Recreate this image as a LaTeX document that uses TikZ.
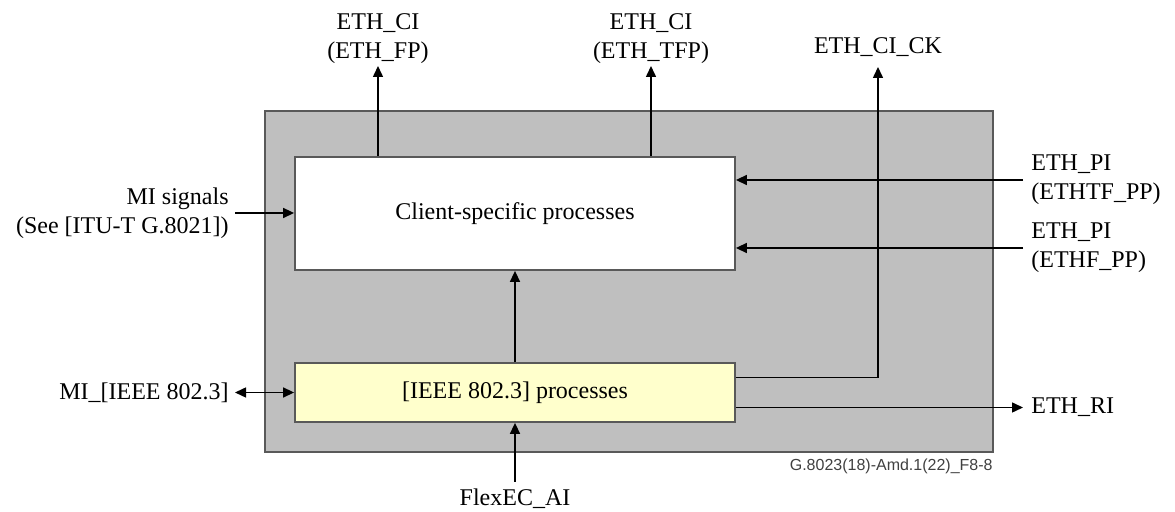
\documentclass[tikz,border=0pt]{standalone}
\usepackage{fontspec}
\setmainfont{Liberation Serif}
\setsansfont{Liberation Sans}
\usetikzlibrary{arrows.meta}
\definecolor{procyellow}{RGB}{255,255,204}

\begin{document}
\begin{tikzpicture}[x=0.5pt,y=-0.5pt,
  >={Triangle[length=5.5pt,width=5pt]},
  fnbox/.style={draw=black!65,line width=0.9pt,fill=#1,inner sep=0pt,
    font=\fontsize{12}{14.5}\selectfont},
  sig/.style={->,line width=0.75pt},
  lbl/.style={font=\fontsize{12}{14.5}\selectfont,inner sep=1pt,align=center}]
  \useasboundingbox (0,0) rectangle (1175,512);
  \node[fnbox=black!25,minimum width=364pt,minimum height=170.5pt] (fn) at (629,281.5) {};
  \node[fnbox=white,minimum width=220pt,minimum height=56.5pt] (client) at (515,213.5) {Client-specific processes};
  \node[fnbox=procyellow,minimum width=220pt,minimum height=29.5pt] (ieee) at (515,392.5) {[IEEE 802.3] processes};

  \node[lbl,anchor=south] (ethfp) at (378,66) {ETH\_CI\\(ETH\_FP)};
  \node[lbl,anchor=south] (ethtfp) at (651,66) {ETH\_CI\\(ETH\_TFP)};
  \node[lbl,anchor=south,inner ysep=5pt] (ethcick) at (878,67) {ETH\_CI\_CK};
  \node[lbl,align=left,anchor=west,inner xsep=4pt] (ethtf) at (1023,180) {ETH\_PI\\(ETHTF\_PP)};
  \node[lbl,align=left,anchor=west,inner xsep=4pt] (ethf) at (1023,248) {ETH\_PI\\(ETHF\_PP)};
  \node[lbl,anchor=west,inner xsep=4pt] (ethri) at (1023,407.5) {ETH\_RI};
  \node[lbl,align=right,anchor=east,inner xsep=3pt] (misig) at (235,213) {MI signals\\(See [ITU-T G.8021])};
  \node[lbl,anchor=east,inner xsep=3pt] (mi8023) at (235,392.5) {MI\_[IEEE 802.3]};
  \node[lbl,anchor=north,inner ysep=3pt] (flexec) at (515,482) {FlexEC\_AI};
  \node[font=\sffamily\fontsize{8}{9}\selectfont,text=black!75,anchor=north east,inner sep=0pt] (figno) at (993,459) {G.8023(18)-Amd.1(22)\_F8-8};

  \draw[sig] (client.north -| ethfp) -- (ethfp);
  \draw[sig] (client.north -| ethtfp) -- (ethtfp);
  \draw[sig] (ethtf.west) -- (ethtf.west -| client.east);
  \draw[sig] (ethf.west) -- (ethf.west -| client.east);
  \draw[sig] (misig.east) -- (misig.east -| client.west);
  \draw[sig,<->] (mi8023.east) -- (ieee.west);
  \draw[sig] (ieee) -- (client);
  \draw[sig] (flexec) -- (ieee);
  \draw[sig] ([yshift=7.5pt]ieee.east) -| (ethcick);
  \draw[sig] ([yshift=-7.5pt]ieee.east) -- ([yshift=-7.5pt]ieee.east -| ethri.west);
\end{tikzpicture}
\end{document}
